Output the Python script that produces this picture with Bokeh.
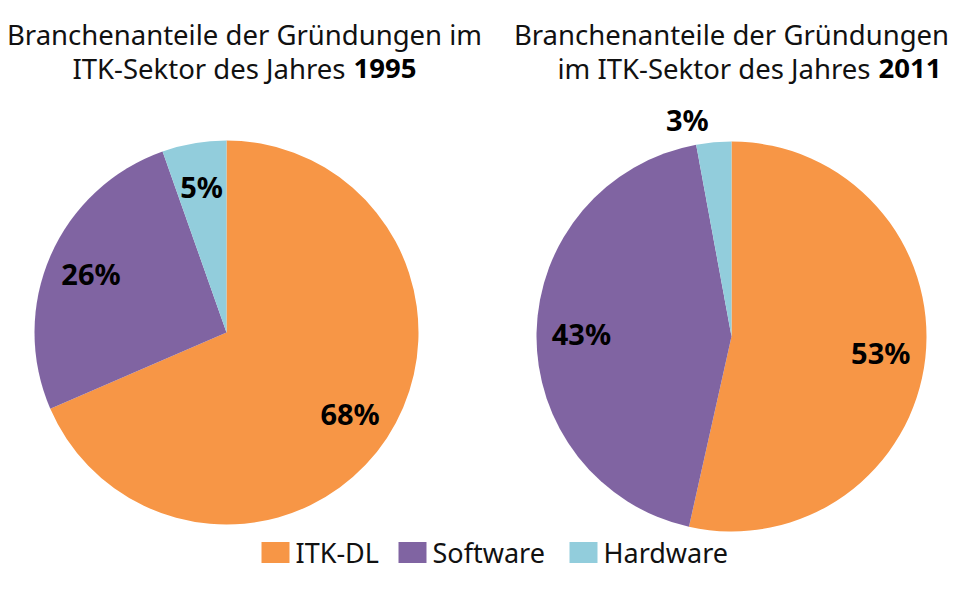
import math
from bokeh.plotting import figure
from bokeh.models import Range1d, ColumnDataSource
from bokeh.embed import file_html
from bokeh.resources import INLINE
from bokeh.core.properties import value

categories = ["ITK-DL", "Software", "Hardware"]
colors = ["#F79646", "#8064A2", "#92CDDC"]
shares_1995 = [68.5, 26.1, 5.4]
labels_1995 = ["68%", "26%", "5%"]
shares_2011 = [53.5, 43.6, 2.9]
labels_2011 = ["53%", "43%", "3%"]
title_line1 = ["Branchenanteile der Gründungen im", "Branchenanteile der Gründungen"]
title_line2 = ["ITK-Sektor des Jahres", "im ITK-Sektor des Jahres"]
years = ["1995", "2011"]

FONT = "Noto Sans"
W, H = 952, 573
p = figure(width=W, height=H, x_range=Range1d(0, W), y_range=Range1d(0, H),
           output_backend="svg", toolbar_location=None, min_border=0)
p.axis.visible = False
p.grid.visible = False
p.outline_line_color = None
p.background_fill_color = "white"


def pie(cx, cy, r, shares, labels):
    total = sum(shares)
    starts, ends, lx, ly, align = [], [], [], [], []
    cum = 0.0
    for s in shares:
        a0 = math.pi / 2 - cum / total * 2 * math.pi
        cum += s
        a1 = math.pi / 2 - cum / total * 2 * math.pi
        starts.append(a0)
        ends.append(a1)
        mid = (a0 + a1) / 2
        frac = s / total
        if frac >= 0.04:
            rr = 0.77 * r
            al = "center"
            lx.append(cx + rr * math.cos(mid))
        else:
            rr = 1.12 * r
            al = "right"
            lx.append(cx + rr * math.cos(mid) - 3)
        ly.append(cy + rr * math.sin(mid))
        align.append(al)
    src = ColumnDataSource(dict(s=starts, e=ends, c=colors))
    p.wedge(x=cx, y=cy, radius=r, start_angle="s", end_angle="e", direction="clock",
            fill_color="c", line_color=None, source=src)
    lsrc = ColumnDataSource(dict(x=lx, y=ly, t=labels, a=align))
    p.text(x="x", y="y", text="t", text_align="a", text_baseline="middle",
           text_font=value(FONT), text_font_style="bold", text_font_size="29px",
           text_color="black", source=lsrc)


pie(226, 241, 192, shares_1995, labels_1995)
pie(731, 237, 195, shares_2011, labels_2011)

# titles
t1x = [244, 731]
split_x = [345, 870]
for i in range(2):
    p.text(x=[t1x[i]], y=[539], text=[title_line1[i]], text_align="center",
           text_baseline="alphabetic", text_font=value(FONT), text_font_size="27.5px",
           text_color="#111111")
    p.text(x=[split_x[i]], y=[505], text=[title_line2[i]], text_align="right",
           text_baseline="alphabetic", text_font=value(FONT), text_font_size="27.5px",
           text_color="#111111")
    p.text(x=[split_x[i] + 8], y=[505], text=[years[i]], text_align="left",
           text_baseline="alphabetic", text_font=value(FONT), text_font_size="27.5px",
           text_font_style="bold", text_color="black")

# legend
sq_x = [261, 398, 569]
ly = 21
p.rect(x=[x + 14 for x in sq_x], y=[ly] * 3, width=28, height=21,
       fill_color=colors, line_color=None)
p.text(x=[x + 34 for x in sq_x], y=[ly] * 3, text=categories, text_align="left",
       text_baseline="middle", text_font=value(FONT), text_font_size="27px",
       text_color="#111111")

open("out.html", "w").write(file_html(p, INLINE))
